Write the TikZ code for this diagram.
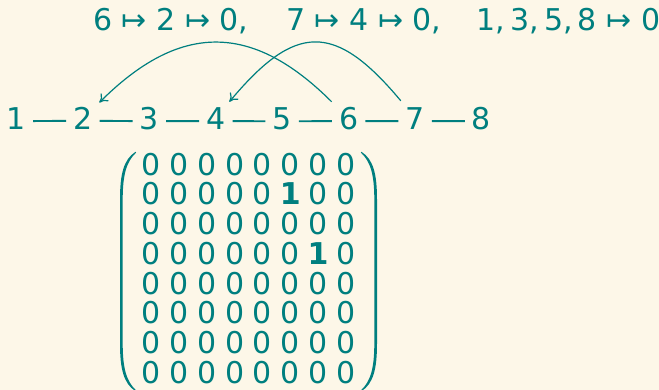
\documentclass[tikz,border=0pt]{standalone}
\usepackage{fontspec}
\setmainfont{DejaVu Sans}
\usetikzlibrary{arrows.meta,matrix}
\definecolor{ink}{HTML}{007F7F}
\definecolor{paper}{HTML}{FDF7E8}

\tikzset{
  maptext/.style={anchor=base west, inner sep=0pt, text=ink, font=\fontsize{30}{36}\selectfont},
  vertex/.style={anchor=base, inner sep=0pt, text=ink, font=\fontsize{30}{36}\selectfont},
  edgeline/.style={draw=ink, line width=1.9pt},
  jump/.style={draw=ink, line width=1.2pt, -{To[length=8pt,width=11pt]}},
  cell/.style={inner sep=0pt, minimum width=27.86pt, minimum height=29.73pt,
    text=ink, font=\fontsize{30}{36}\selectfont},
}

\begin{document}
\begin{tikzpicture}[x=1pt,y=-1pt]
  \fill[paper] (0,0) rectangle (659,390);
  \useasboundingbox (0,0) rectangle (659,390);

  % pointer mapping
  \node[maptext] (t1) at (93,31) {6 ↦ 2 ↦ 0,};
  \node[maptext] (t2) at (286,31) {7 ↦ 4 ↦ 0,};
  \node[maptext] (t3) at (476.7,31) {1,\,3,\,5,\,8 ↦ 0};

  % the path of vertices
  \foreach \i in {1,...,8}
    \node[vertex] (n\i) at ({16.5+66.43*(\i-1)},130) {\i};
  \foreach \i [evaluate=\i as \j using int(\i+1)] in {1,...,7}
    \draw[edgeline] ([shift={(7,2)}]n\i.east) -- ([shift={(-7,2)}]n\j.west);

  % jump pointers
  \draw[jump] ([shift={(-17,-17.3)}]n6.center)
    .. controls +(-80,-80) and +(80,-80) .. ([shift={(16.4,-16.3)}]n2.center);
  \draw[jump] ([shift={(-14.3,-18.3)}]n7.center)
    .. controls +(-66,-79) and +(66,-79) .. ([shift={(13.6,-17.3)}]n4.center);

  % adjacency matrix
  \matrix (m) [matrix of nodes, nodes={cell}, column sep=0pt, row sep=0pt]
    at (248.5,268.25) {
    0 & 0 & 0 & 0 & 0 & 0 & 0 & 0 \\
    0 & 0 & 0 & 0 & 0 & \textbf{1} & 0 & 0 \\
    0 & 0 & 0 & 0 & 0 & 0 & 0 & 0 \\
    0 & 0 & 0 & 0 & 0 & 0 & \textbf{1} & 0 \\
    0 & 0 & 0 & 0 & 0 & 0 & 0 & 0 \\
    0 & 0 & 0 & 0 & 0 & 0 & 0 & 0 \\
    0 & 0 & 0 & 0 & 0 & 0 & 0 & 0 \\
    0 & 0 & 0 & 0 & 0 & 0 & 0 & 0 \\
  };

  % parentheses around the matrix
  \begin{scope}[shift={(m.center)}]
    \begin{scope}[shift={(0,3.25)}]
      \foreach \s in {1,-1} {
        \begin{scope}[xscale=\s]
          \fill[ink] (-113,-119.7) .. controls (-125,-112) and (-128.5,-97) .. (-128.5,-72)
            -- (-128.5,72) .. controls (-128.5,97) and (-125,112) .. (-113,119.7)
            -- (-112.3,119) .. controls (-122,110) and (-125.8,97) .. (-125.8,72)
            -- (-125.8,-72) .. controls (-125.8,-97) and (-122,-110) .. (-112.3,-119) -- cycle;
        \end{scope}
      }
    \end{scope}
  \end{scope}
\end{tikzpicture}
\end{document}
